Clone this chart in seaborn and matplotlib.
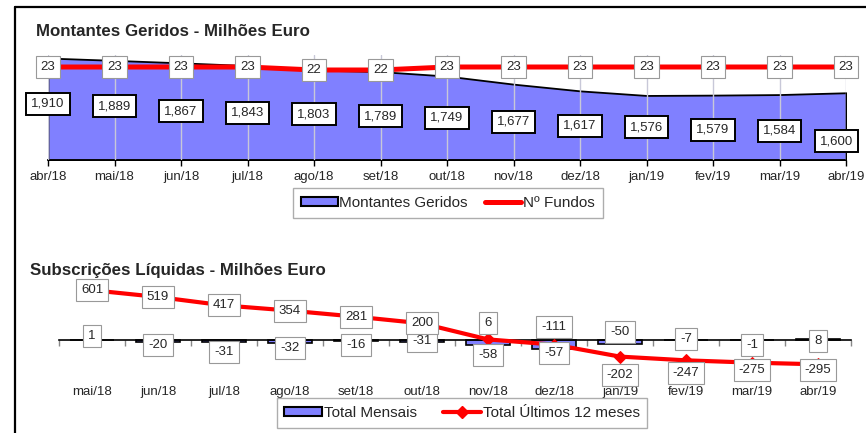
import numpy as np
import pandas as pd
import matplotlib
matplotlib.use("Agg")
import matplotlib.pyplot as plt
import seaborn as sns
from matplotlib.patches import Patch
from matplotlib.lines import Line2D

# ==========================================================
# Dados
# ==========================================================

meses_topo = ["abr/18", "mai/18", "jun/18", "jul/18", "ago/18", "set/18", "out/18",
              "nov/18", "dez/18", "jan/19", "fev/19", "mar/19", "abr/19"]
montantes = [1910, 1889, 1867, 1843, 1803, 1789, 1749, 1677, 1617, 1576, 1579, 1584, 1600]
n_fundos = [23, 23, 23, 23, 22, 22, 23, 23, 23, 23, 23, 23, 23]

meses_baixo = meses_topo[1:]
total_mensais = [1, -20, -31, -32, -16, -31, -58, -111, -50, -7, -1, 8]
total_12m = [601, 519, 417, 354, 281, 200, 6, -57, -202, -247, -275, -295]

# deslocamento vertical das etiquetas (pontos)
off_montantes = [-33, -33, -35, -34, -32, -32, -30, -27, -25, -23, -25, -26, -35]
off_mensais = [3, -4, -9, -6, -4, -1, -11, 9, 6, 1, -4, -1]
off_12m = [0, 0, 0, 0, 0, 0, 12, -6, -13, -9, -5, -4]

AZUL = "#8080FF"
VERMELHO = "#FF0000"
W, H = 866, 433


def caixa(l, t, r, b):
    return [l / W, 1 - b / H, (r - l) / W, (b - t) / H]


sns.set_theme(style="white")
plt.rcParams["font.family"] = ["Liberation Sans", "DejaVu Sans"]

fig = plt.figure(figsize=(W / 100, H / 100), dpi=100)

caixa_cinza = dict(boxstyle="square,pad=0.38", fc="white", ec="#999999", lw=0.8)
caixa_preta = dict(boxstyle="square,pad=0.38", fc="white", ec="black", lw=1.4)

# ==========================================================
# Montantes Geridos
# ==========================================================

df_topo = pd.DataFrame({"pos": np.arange(len(meses_topo)),
                        "montantes": montantes,
                        "fundos": n_fundos})

ax1 = fig.add_axes(caixa(48, 55, 846, 160))
ax1.fill_between(df_topo["pos"], df_topo["montantes"], 1000,
                 facecolor=AZUL, edgecolor="black", lw=1.3, zorder=1)
ax1.set_xlim(0, 12)
ax1.set_ylim(1000, 1937)
ax1.set_xticks(df_topo["pos"])
ax1.set_xticklabels(meses_topo, fontsize=9.5)
ax1.set_yticks([])
ax1.tick_params(axis="x", bottom=True, length=4, width=1, color="black", pad=4)
for s in ["left", "right", "top"]:
    ax1.spines[s].set_visible(False)
ax1.spines["bottom"].set_color("black")
ax1.spines["bottom"].set_linewidth(1.3)
ax1.set_axisbelow(False)
ax1.xaxis.grid(True, color="#c8c8d8", lw=1)
ax1.yaxis.grid(False)

for i, v in enumerate(montantes):
    dx = -7 if i == len(montantes) - 1 else 0
    ax1.annotate(f"{v:,}", (i, v), xytext=(dx, off_montantes[i]),
                 textcoords="offset points", ha="center", va="center",
                 fontsize=9.5, bbox=caixa_preta, zorder=5, annotation_clip=False)

ax1b = ax1.twinx()
sns.lineplot(data=df_topo, x="pos", y="fundos", ax=ax1b, color=VERMELHO,
             lw=3.6, legend=False)
ax1b.set_ylim(-8, 27)
ax1b.set_xlim(0, 12)
ax1b.set_yticks([])
ax1b.set_xlabel("")
ax1b.set_ylabel("")
ax1.set_xlabel("")
for s in ax1b.spines.values():
    s.set_visible(False)

for i, v in enumerate(n_fundos):
    ax1b.annotate(str(v), (i, v), ha="center", va="center", fontsize=9.5,
                  bbox=caixa_cinza, zorder=5, annotation_clip=False)

fig.text(36 / W, 1 - 31 / H, "Montantes Geridos - Milhões Euro",
         fontsize=12.2, fontweight="bold", va="center")

fig.legend(handles=[Patch(facecolor=AZUL, edgecolor="black", lw=1.5),
                    Line2D([], [], color=VERMELHO, lw=3.6)],
           labels=["Montantes Geridos", "Nº Fundos"],
           loc="center", bbox_to_anchor=(448 / W, 1 - 203 / H), ncol=2,
           frameon=True, fancybox=False, edgecolor="#999999", fontsize=11,
           handlelength=2.4, handleheight=0.55, handletextpad=0.1,
           columnspacing=1.1, borderpad=0.55)

# ==========================================================
# Subscrições Líquidas
# ==========================================================

df_baixo = pd.DataFrame({"mes": meses_baixo,
                         "pos": np.arange(len(meses_baixo)),
                         "mensais": total_mensais,
                         "doze": total_12m})

ax2 = fig.add_axes(caixa(59, 282, 851, 373))
sns.barplot(data=df_baixo, x="mes", y="mensais", ax=ax2, color=AZUL,
            saturation=1, edgecolor="black", lw=1.2, width=0.68, zorder=2)
sns.lineplot(data=df_baixo, x="pos", y="doze", ax=ax2, color=VERMELHO, lw=3,
             marker="D", markersize=6, markeredgecolor=VERMELHO, zorder=3,
             legend=False)
ax2.set_xlim(-0.5, 11.5)
ax2.set_ylim(-400, 700)
ax2.set_xlabel("")
ax2.set_ylabel("")
ax2.set_yticks([])
for s in ["left", "right", "top"]:
    ax2.spines[s].set_visible(False)
ax2.spines["bottom"].set_position(("data", 0))
ax2.spines["bottom"].set_color("black")
ax2.spines["bottom"].set_linewidth(1.2)
ax2.set_xticks(df_baixo["pos"])
ax2.set_xticklabels(meses_baixo, fontsize=9.5)
ax2.set_xticks(np.arange(-0.5, 12), minor=True)
ax2.tick_params(axis="x", which="major", bottom=True, length=0, pad=33)
ax2.tick_params(axis="x", which="minor", bottom=True, length=4, width=1,
                color="#888888")
ax2.grid(False)

for i, v in enumerate(total_mensais):
    ax2.annotate(str(v), (i, 0), xytext=(0, off_mensais[i]),
                 textcoords="offset points", ha="center", va="center",
                 fontsize=9.5, bbox=caixa_cinza, zorder=6, annotation_clip=False)

for i, v in enumerate(total_12m):
    ax2.annotate(str(v), (i, v), xytext=(0, off_12m[i]),
                 textcoords="offset points", ha="center", va="center",
                 fontsize=9.5, bbox=caixa_cinza, zorder=6, annotation_clip=False)

fig.text(30 / W, 1 - 270 / H, "Subscrições Líquidas - Milhões Euro",
         fontsize=12.2, fontweight="bold", va="center")

fig.legend(handles=[Patch(facecolor=AZUL, edgecolor="black", lw=1.5),
                    Line2D([], [], color=VERMELHO, lw=3, marker="D",
                           markersize=6)],
           labels=["Total Mensais", "Total Últimos 12 meses"],
           loc="center", bbox_to_anchor=(462 / W, 1 - 413 / H), ncol=2,
           frameon=True, fancybox=False, edgecolor="#999999", fontsize=11,
           handlelength=2.5, handleheight=0.55, handletextpad=0.1,
           columnspacing=1.7, borderpad=0.5)

# moldura
fig.add_artist(Line2D([15 / W, 1], [1 - 7 / H, 1 - 7 / H], color="black", lw=1.6))
fig.add_artist(Line2D([15 / W, 15 / W], [0, 1 - 7 / H], color="black", lw=1.6))

fig.savefig("out.png", dpi=100)
